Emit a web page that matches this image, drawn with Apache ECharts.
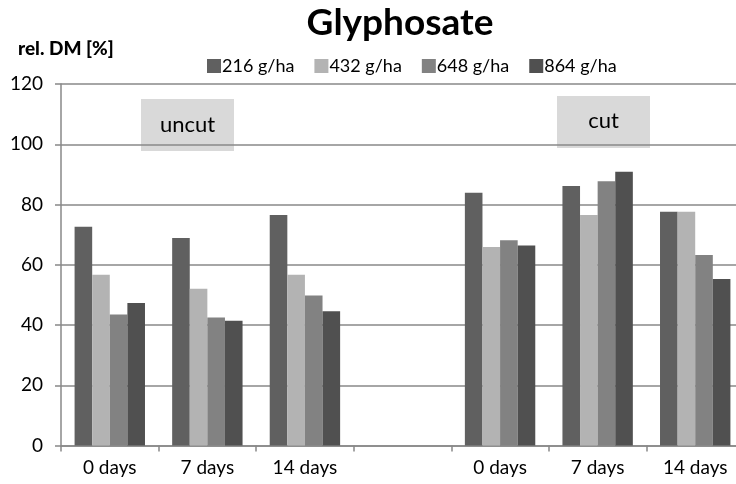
<!DOCTYPE html>
<html>
<head>
<meta charset="utf-8">
<script src="https://cdn.jsdelivr.net/npm/echarts@6/dist/echarts.min.js"></script>
<style>
  html, body { margin: 0; padding: 0; background: #fff; }
  #chart { width: 736px; height: 484px; }
</style>
</head>
<body>
<div id="chart"></div>
<script>
var categories = ['0 days', '7 days', '14 days', '', '0 days', '7 days', '14 days'];
var yTicks = [0, 20, 40, 60, 80, 100, 120];
var seriesNames = ['216 g/ha', '432 g/ha', '648 g/ha', '864 g/ha'];
var g216 = [72.6, 68.9, 76.5, '-', 83.9, 86.1, 77.6];
var g432 = [56.7, 52.0, 56.7, '-', 65.9, 76.5, 77.6];
var g648 = [43.5, 42.5, 49.8, '-', 68.1, 87.7, 63.2];
var g864 = [47.3, 41.4, 44.6, '-', 66.4, 90.9, 55.3];
var colors = ['#606060', '#b3b3b3', '#828282', '#505050'];

var chart = echarts.init(document.getElementById('chart'));
var font = 'Lato';

var option = {
    animation: false,
    backgroundColor: '#fff',
    title: {
        text: 'Glyphosate',
        left: 395,
        textAlign: 'center',
        top: 0,
        textStyle: { fontFamily: font, fontSize: 37, fontWeight: 'bold', color: '#000' }
    },
    legend: {
        left: 202,
        top: 52,
        icon: 'rect',
        itemWidth: 14,
        itemHeight: 14,
        itemGap: 20,
        textStyle: { fontFamily: font, fontSize: 18, color: '#000', padding: [0, 0, 0, -4] },
        data: seriesNames
    },
    grid: { left: 61, right: -8, top: 84, bottom: 38.5, containLabel: false, outerBoundsMode: 'none' },
    xAxis: {
        type: 'category',
        data: categories,
        axisLine: { lineStyle: { color: '#888', width: 1.5 } },
        axisTick: { show: true, length: 6, lineStyle: { color: '#888', width: 1.5 } },
        axisLabel: { fontFamily: font, fontSize: 19, color: '#000', margin: 13 }
    },
    yAxis: {
        type: 'value',
        min: yTicks[0],
        max: yTicks[yTicks.length - 1],
        interval: 20,
        name: 'rel. DM [%]',
        nameLocation: 'end',
        nameGap: 26,
        nameTextStyle: { fontFamily: font, fontSize: 19, fontWeight: 900, color: '#000', align: 'left', padding: [0, 0, 0, -43] },
        axisLine: { show: true, lineStyle: { color: '#888', width: 1.5 } },
        axisTick: { show: true, length: 6, lineStyle: { color: '#888', width: 1.5 } },
        axisLabel: { fontFamily: font, fontSize: 19, color: '#000', margin: 18 },
        splitLine: { lineStyle: { color: '#888', width: 1.5 } }
    },
    series: [g216, g432, g648, g864].map(function (d, i) {
        return {
            name: seriesNames[i],
            type: 'bar',
            data: d,
            barWidth: 17.6,
            barGap: '0%',
            itemStyle: { color: colors[i] }
        };
    }),
    graphic: [
        {
            type: 'group',
            left: 141,
            top: 99,
            children: [
                { type: 'rect', shape: { x: 0, y: 0, width: 93, height: 52 }, style: { fill: '#d9d9d9' } },
                { type: 'text', x: 46.5, y: 26, style: { text: 'uncut', fontFamily: font, fontSize: 22, fill: '#000', textAlign: 'center', textVerticalAlign: 'middle' } }
            ]
        },
        {
            type: 'group',
            left: 557,
            top: 96,
            children: [
                { type: 'rect', shape: { x: 0, y: 0, width: 93, height: 52 }, style: { fill: '#d9d9d9' } },
                { type: 'text', x: 46.5, y: 25, style: { text: 'cut', fontFamily: font, fontSize: 22, fill: '#000', textAlign: 'center', textVerticalAlign: 'middle' } }
            ]
        }
    ]
};

chart.setOption(option);
window.addEventListener('resize', chart.resize);
</script>
</body>
</html>
